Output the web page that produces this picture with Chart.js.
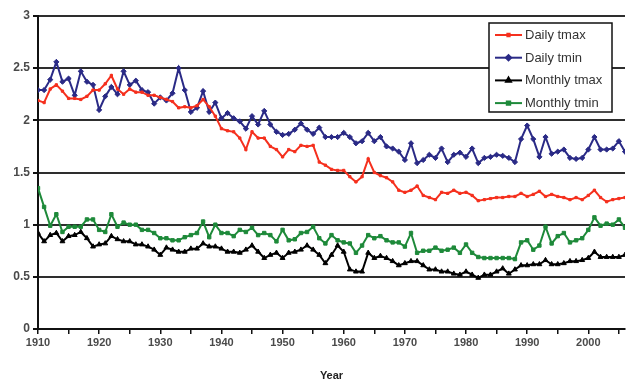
<!DOCTYPE html>
<html>
<head>
<meta charset="utf-8">
<script src="https://cdn.jsdelivr.net/npm/chart.js@4"></script>
<style>
html,body{margin:0;padding:0;background:#fff;}
#wrap{width:630px;height:383px;position:relative;}
</style>
</head>
<body>
<div id="wrap"><canvas id="c" width="630" height="383"></canvas></div>
<script>
const startYear = 1910;
const endYear = 2006;
const years = [];
for (let y = startYear; y <= endYear; y++) years.push(y);

const seriesNames = ['Daily tmax', 'Daily tmin', 'Monthly tmax', 'Monthly tmin'];
const yTicks = [0, 0.5, 1, 1.5, 2, 2.5, 3];
const xLabelYears = [1910, 1920, 1930, 1940, 1950, 1960, 1970, 1980, 1990, 2000];

const dailyTmax = [
2.19,2.17,2.30,2.34,2.28,2.21,2.21,2.20,2.23,2.29,
2.29,2.35,2.43,2.30,2.25,2.30,2.27,2.27,2.24,2.24,
2.22,2.20,2.18,2.12,2.13,2.12,2.14,2.20,2.13,2.04,
1.92,1.90,1.89,1.83,1.72,1.89,1.83,1.83,1.75,1.72,
1.65,1.72,1.70,1.76,1.75,1.76,1.60,1.57,1.53,1.52,
1.52,1.46,1.41,1.46,1.63,1.50,1.47,1.45,1.41,1.33,
1.31,1.33,1.37,1.28,1.26,1.24,1.31,1.30,1.33,1.30,
1.31,1.28,1.23,1.24,1.25,1.26,1.26,1.27,1.27,1.30,
1.27,1.29,1.32,1.27,1.29,1.27,1.26,1.24,1.26,1.24,
1.28,1.33,1.26,1.22,1.24,1.25,1.26];

const dailyTmin = [
2.29,2.29,2.39,2.56,2.37,2.40,2.24,2.47,2.37,2.34,
2.10,2.23,2.32,2.25,2.47,2.34,2.38,2.29,2.27,2.16,
2.22,2.19,2.26,2.50,2.29,2.08,2.12,2.28,2.08,2.17,
2.02,2.07,2.02,1.99,1.92,2.04,1.96,2.09,1.96,1.89,
1.86,1.87,1.91,1.97,1.91,1.87,1.93,1.84,1.84,1.84,
1.88,1.84,1.78,1.80,1.88,1.80,1.84,1.75,1.73,1.70,
1.62,1.78,1.59,1.62,1.67,1.64,1.73,1.60,1.67,1.69,
1.65,1.73,1.59,1.64,1.65,1.67,1.66,1.64,1.60,1.82,
1.95,1.82,1.65,1.84,1.68,1.70,1.72,1.64,1.63,1.64,
1.72,1.84,1.72,1.72,1.73,1.80,1.70];

const monthlyTmax = [
0.92,0.84,0.90,0.92,0.84,0.89,0.90,0.93,0.87,0.79,
0.81,0.82,0.89,0.86,0.84,0.84,0.81,0.81,0.79,0.76,
0.71,0.78,0.76,0.74,0.74,0.77,0.77,0.82,0.79,0.79,
0.77,0.74,0.74,0.73,0.76,0.80,0.74,0.68,0.71,0.73,
0.68,0.73,0.74,0.76,0.80,0.76,0.71,0.63,0.71,0.80,
0.74,0.57,0.55,0.55,0.73,0.68,0.70,0.68,0.65,0.61,
0.63,0.65,0.65,0.61,0.57,0.57,0.55,0.55,0.53,0.52,
0.55,0.52,0.49,0.52,0.52,0.55,0.58,0.53,0.57,0.61,
0.61,0.62,0.62,0.66,0.62,0.62,0.63,0.65,0.65,0.66,
0.68,0.74,0.69,0.69,0.69,0.69,0.71];

const monthlyTmin = [
1.35,1.17,0.99,1.10,0.93,0.98,0.98,0.98,1.05,1.05,
0.95,0.93,1.10,0.98,1.02,1.00,1.00,0.95,0.95,0.92,
0.87,0.87,0.85,0.85,0.88,0.90,0.92,1.03,0.88,1.00,
0.92,0.92,0.89,0.95,0.93,0.97,0.90,0.92,0.90,0.84,
0.95,0.85,0.86,0.92,0.93,0.98,0.87,0.82,0.90,0.85,
0.83,0.82,0.73,0.80,0.90,0.87,0.89,0.85,0.83,0.83,
0.79,0.92,0.73,0.75,0.75,0.78,0.75,0.76,0.78,0.73,
0.81,0.73,0.69,0.68,0.68,0.68,0.68,0.68,0.67,0.83,
0.85,0.76,0.80,0.98,0.82,0.89,0.92,0.83,0.85,0.87,
0.95,1.07,0.99,1.01,1.00,1.05,0.97];

const seriesValues = [dailyTmax, dailyTmin, monthlyTmax, monthlyTmin];
const seriesColors = ['#f5301e', '#2a2a86', '#000000', '#1e8a3a'];
const seriesPoints = ['rect', 'rectRot', 'triangle', 'rect'];
const seriesRadius = [1.6, 2.6, 2.8, 2.4];

const datasets = seriesNames.map((name, k) => ({
  label: name,
  data: years.map((yr, i) => ({x: yr, y: seriesValues[k][i]})),
  borderColor: seriesColors[k],
  backgroundColor: seriesColors[k],
  borderWidth: 2,
  pointStyle: seriesPoints[k],
  pointRadius: seriesRadius[k],
  pointBorderWidth: 1,
  pointBackgroundColor: seriesColors[k],
  pointBorderColor: seriesColors[k],
  tension: 0
}));

const legendBox = {
  id: 'legendBox',
  afterDraw(chart) {
    const ctx = chart.ctx;
    const x0 = 489, y0 = 23, w = 123, h = 89;
    ctx.save();
    ctx.fillStyle = '#ffffff';
    ctx.fillRect(x0, y0, w, h);
    ctx.strokeStyle = '#111';
    ctx.lineWidth = 1.5;
    ctx.strokeRect(x0, y0, w, h);
    ctx.font = '13px "Liberation Sans", Arial, sans-serif';
    ctx.textBaseline = 'middle';
    chart.data.datasets.forEach((ds, i) => {
      const cy = y0 + 12 + i * 22.7;
      ctx.strokeStyle = ds.borderColor;
      ctx.lineWidth = 2;
      ctx.beginPath();
      ctx.moveTo(x0 + 6, cy);
      ctx.lineTo(x0 + 33, cy);
      ctx.stroke();
      ctx.fillStyle = ds.borderColor;
      Chart.helpers.drawPoint(ctx, {pointStyle: ds.pointStyle, radius: ds.pointRadius, borderWidth: 1}, x0 + 19.5, cy);
      ctx.fillStyle = '#333';
      ctx.fillText(ds.label, x0 + 36, cy + 0.5);
    });
    ctx.restore();
  }
};

new Chart(document.getElementById('c'), {
  type: 'line',
  data: { datasets },
  options: {
    responsive: false,
    animation: false,
    layout: { padding: { top: 16, right: 0, left: 0, bottom: 0 } },
    plugins: { legend: { display: false }, tooltip: { enabled: false } },
    scales: {
      x: {
        type: 'linear',
        min: startYear,
        max: endYear,
        afterFit(scale) { scale.height = 54; },
        afterBuildTicks(scale) {
          const t = [];
          for (let v = startYear; v <= endYear; v += 5) t.push({value: v});
          scale.ticks = t;
        },
        ticks: {
          autoSkip: false,
          maxRotation: 0,
          padding: 2,
          color: '#4a4a4a',
          font: { family: '"Liberation Sans", Arial, sans-serif', size: 11, weight: 'bold' },
          callback: (v) => xLabelYears.includes(v) ? String(v) : ''
        },
        grid: { drawOnChartArea: false, tickLength: 5, tickColor: '#111', lineWidth: 1.5 },
        border: { color: '#111', width: 2 },
        title: {
          display: true, text: 'Year', color: '#222',
          font: { family: '"Liberation Sans", Arial, sans-serif', size: 11, weight: 'bold' },
          padding: { top: 16, bottom: 0 }
        }
      },
      y: {
        min: 0,
        max: 3,
        afterFit(scale) { scale.width = 38; },
        afterBuildTicks(scale) { scale.ticks = yTicks.map(v => ({value: v})); },
        ticks: {
          padding: 3,
          color: '#4a4a4a',
          font: { family: '"Liberation Sans", Arial, sans-serif', size: 12, weight: 'bold' },
          callback: (v) => String(v)
        },
        grid: { color: '#2e2e2e', lineWidth: 2, tickLength: 5, tickColor: '#111' },
        border: { color: '#111', width: 2 }
      }
    }
  },
  plugins: [legendBox]
});
</script>
</body>
</html>
